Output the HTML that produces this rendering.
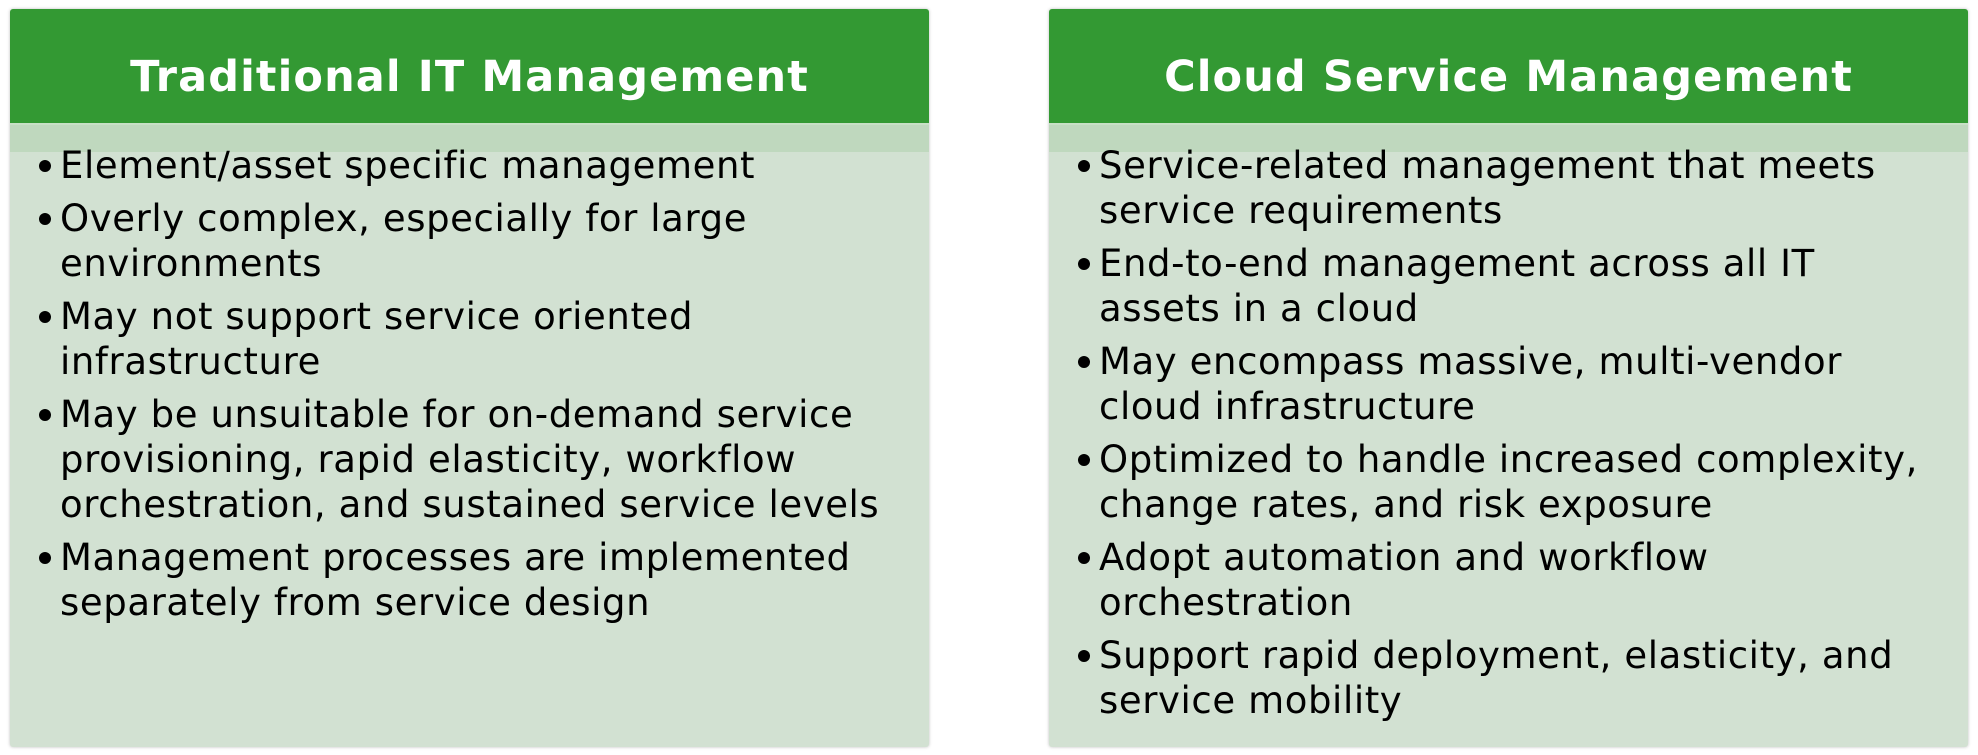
<!DOCTYPE html>
<html><head><meta charset="utf-8"><style>
html,body{margin:0;padding:0;background:#fff;width:1978px;height:755px;overflow:hidden}
.box{position:absolute;top:9px;width:919px;height:738px;background:#d2e1d2;border-radius:3px;box-shadow:0 0 3px rgba(0,0,0,.25)}
.hd{position:absolute;left:0;top:0;width:100%;height:114px;background:#339933;border-radius:3px 3px 0 0;color:#fff;font:bold 43px "DejaVu Sans","Liberation Sans",sans-serif;letter-spacing:1.1px;text-align:center;line-height:136px}
.strip{position:absolute;left:0;top:114px;width:100%;height:27px;background:#bfd8be;border-top:2px solid #c8e0c6}
ul{position:absolute;left:0;top:134px;margin:0;padding:0;list-style:none;font:37px/45px "DejaVu Sans","Liberation Sans",sans-serif;letter-spacing:0.6px;color:#000}
li{position:relative;padding-left:50px;margin-bottom:8px}
li:before{content:"";position:absolute;left:29px;top:17px;width:12px;height:12px;border-radius:50%;background:#000}
</style></head><body>
<div class="box" style="left:10px">
<div class="hd">Traditional IT Management</div><div class="strip"></div>
<ul style="width:915px">
<li>Element/asset specific management</li>
<li>Overly complex, especially for large<br>environments</li>
<li>May not support service oriented<br>infrastructure</li>
<li>May be unsuitable for on-demand service<br>provisioning, rapid elasticity, workflow<br>orchestration, and sustained service levels</li>
<li>Management processes are implemented<br>separately from service design</li>
</ul></div>
<div class="box" style="left:1049px">
<div class="hd">Cloud Service Management</div><div class="strip"></div>
<ul style="width:919px">
<li>Service-related management that meets<br>service requirements</li>
<li>End-to-end management across all IT<br>assets in a cloud</li>
<li>May encompass massive, multi-vendor<br>cloud infrastructure</li>
<li>Optimized to handle increased complexity,<br>change rates, and risk exposure</li>
<li>Adopt automation and workflow<br>orchestration</li>
<li>Support rapid deployment, elasticity, and<br>service mobility</li>
</ul></div>
</body></html>
